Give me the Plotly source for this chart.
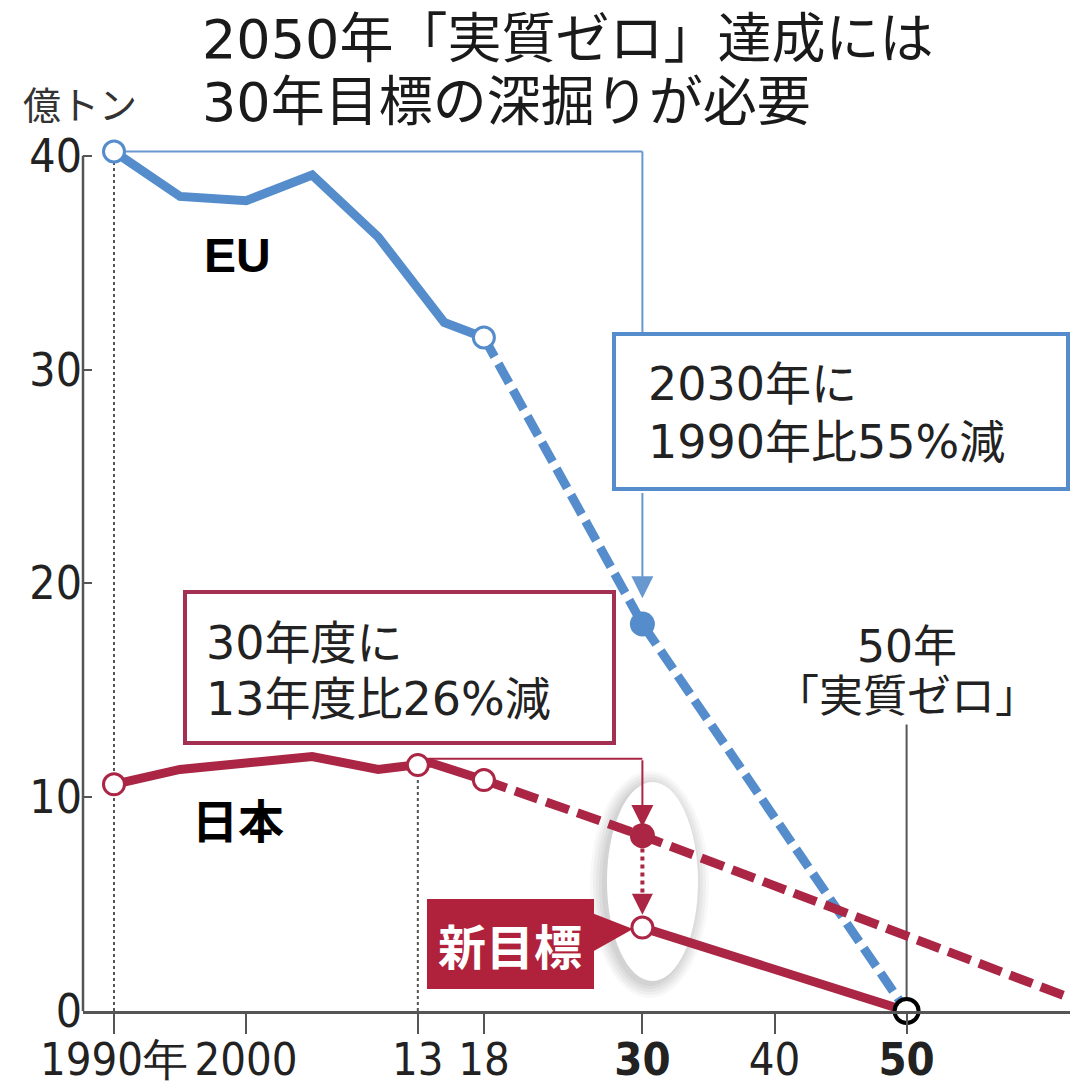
import plotly.graph_objects as go

# --- data (億トン) ---
eu_years = [1990, 1995, 2000, 2005, 2010, 2015, 2018]
eu_vals = [40.2, 38.1, 37.9, 39.1, 36.2, 32.2, 31.5]
eu_goal_years = [2018, 2030, 2050]
eu_goal_vals = [31.5, 18.1, 0]

jp_years = [1990, 1995, 2000, 2005, 2010, 2013, 2014, 2018]
jp_vals = [10.6, 11.3, 11.6, 11.9, 11.3, 11.5, 11.6, 10.8]
jp_old_years = [2018, 2030, 2065]
jp_old_vals = [10.8, 8.2, 0]
jp_new_years = [2030, 2050]
jp_new_vals = [3.9, 0]

tick_years = [1990, 2000, 2013, 2018, 2030, 2040, 2050]
tick_text = ['1990年', '2000', '13', '18', '<b>30</b>', '40', '<b>50</b>']
y_ticks = [0, 10, 20, 30, 40]

title_lines = ['2050年「実質ゼロ」達成には', '30年目標の深掘りが必要']
eu_note = ['2030年に', '1990年比55%減']
jp_note = ['30年度に', '13年度比26%減']
zero_note = ['50年', '「実質ゼロ」']

blue = 'rgb(84,140,204)'
blue_thin = 'rgb(104,152,208)'
red = 'rgb(170,38,68)'
red_box = 'rgb(163,48,80)'
red_fill = 'rgb(176,34,60)'
grey = '#555555'

narrow = 'Liberation Sans Narrow, DejaVu Sans Condensed, Roboto, sans-serif'
jp_font = 'DejaVu Sans, Noto Sans CJK JP, sans-serif'

# page has an 8px body margin; positions below are in page pixels
OFF = 8
FIG_W, FIG_H = 1078 - OFF, 1091 - OFF
L, W, B, H = 83, 995, 1011, 898
X0 = 1990 - (114 - L) / 13.21
X1 = X0 + W / 13.21
YMAX = 42


def px(x):
    return (x - L) / W


def py(y):
    return (B - y) / H


fig = go.Figure()

# EU
fig.add_trace(go.Scatter(x=eu_years, y=eu_vals, mode='lines',
                         line=dict(color=blue, width=9), showlegend=False))
fig.add_trace(go.Scatter(x=eu_goal_years, y=eu_goal_vals, mode='lines',
                         line=dict(color=blue, width=9, dash='22px,8px'),
                         showlegend=False))
# Japan
fig.add_trace(go.Scatter(x=jp_years, y=jp_vals, mode='lines',
                         line=dict(color=red, width=9), showlegend=False))
fig.add_trace(go.Scatter(x=jp_old_years, y=jp_old_vals, mode='lines',
                         line=dict(color=red, width=9, dash='24px,9px'),
                         showlegend=False))
fig.add_trace(go.Scatter(x=jp_new_years, y=jp_new_vals, mode='lines',
                         line=dict(color=red, width=9), showlegend=False))

# markers
fig.add_trace(go.Scatter(
    x=[eu_years[0], eu_years[-1]], y=[eu_vals[0], eu_vals[-1]], mode='markers',
    marker=dict(size=21, color='white', line=dict(color=blue, width=3)),
    showlegend=False, cliponaxis=False))
fig.add_trace(go.Scatter(
    x=[eu_goal_years[1]], y=[eu_goal_vals[1]], mode='markers',
    marker=dict(size=25, color=blue), showlegend=False))
fig.add_trace(go.Scatter(
    x=[jp_years[0], jp_years[5], jp_years[-1], jp_new_years[0]],
    y=[jp_vals[0], jp_vals[5], jp_vals[-1], jp_new_vals[0]], mode='markers',
    marker=dict(size=21, color='white', line=dict(color=red, width=3)),
    showlegend=False))
fig.add_trace(go.Scatter(
    x=[jp_old_years[1]], y=[jp_old_vals[1]], mode='markers',
    marker=dict(size=25, color=red), showlegend=False))
fig.add_trace(go.Scatter(
    x=[jp_new_years[1]], y=[jp_new_vals[1]], mode='markers',
    marker=dict(size=24, color='white', line=dict(color='black', width=4)),
    showlegend=False, cliponaxis=False))

shapes = []
# soft shadow + white ellipse behind the 2030 points
for i, op in enumerate([0.05, 0.06, 0.07, 0.08, 0.09]):
    g = 14 - i * 3
    shapes.append(dict(type='circle', xref='paper', yref='paper', layer='below',
                       x0=px(607 - g - 3), x1=px(698 + g - 3),
                       y0=py(981 + g + 3), y1=py(782 - g + 3),
                       fillcolor=f'rgba(110,110,110,{op})', line=dict(width=0)))
shapes.append(dict(type='circle', xref='paper', yref='paper', layer='below',
                   x0=px(607), x1=px(698), y0=py(981), y1=py(782),
                   fillcolor='white', line=dict(width=0)))
# y axis line (0..40)
shapes.append(dict(type='line', xref='paper', yref='y', x0=0, x1=0, y0=0, y1=40,
                   line=dict(color=grey, width=2.5)))
# dotted guides
shapes.append(dict(type='line', x0=1990, x1=1990, y0=0, y1=eu_vals[0], layer='below',
                   line=dict(color=grey, width=2, dash='dot')))
shapes.append(dict(type='line', x0=2013, x1=2013, y0=0, y1=jp_vals[5], layer='below',
                   line=dict(color=grey, width=2, dash='dot')))
# 2050 guide
shapes.append(dict(type='line', x0=2050, x1=2050, y0=0, y1=13.4, layer='below',
                   line=dict(color=grey, width=2)))
# EU connector
shapes.append(dict(type='line', x0=1990, x1=2030, y0=eu_vals[0], y1=eu_vals[0],
                   layer='below', line=dict(color=blue_thin, width=2)))
shapes.append(dict(type='line', x0=2030, x1=2030, y0=eu_vals[0], y1=26,
                   layer='below', line=dict(color=blue_thin, width=2)))
# JP connector
shapes.append(dict(type='line', x0=2013, x1=2030, y0=11.8, y1=11.8,
                   layer='below', line=dict(color=red, width=2)))
# dotted arrow shaft
shapes.append(dict(type='line', x0=2030, x1=2030, y0=7.6, y1=5.2,
                   line=dict(color=red, width=4, dash='dot')))
# note boxes
shapes.append(dict(type='rect', xref='paper', yref='paper',
                   x0=px(614), x1=px(1068), y0=py(489), y1=py(334),
                   fillcolor='white', line=dict(color=blue, width=4)))
shapes.append(dict(type='rect', xref='paper', yref='paper',
                   x0=px(185), x1=px(614), y0=py(743), y1=py(592),
                   fillcolor='white', line=dict(color=red_box, width=4)))
# 新目標 label with pointer
shapes.append(dict(type='rect', xref='paper', yref='paper',
                   x0=px(427), x1=px(594), y0=py(989), y1=py(899),
                   fillcolor=red_fill, line=dict(width=0)))
shapes.append(dict(type='path', xref='paper', yref='paper',
                   path=f'M {px(592)} {py(913)} L {px(633)} {py(929)} L {px(592)} {py(952)} Z',
                   fillcolor=red_fill, line=dict(width=0)))

ann = []
# title
for i, t in enumerate(title_lines):
    ann.append(dict(text=t, xref='paper', yref='paper', x=px(200), y=py(40 + 63 * i),
                    xanchor='left', yanchor='middle', showarrow=False,
                    font=dict(family=jp_font, size=54, color='#1a1a1a')))
ann.append(dict(text='億トン', xref='paper', yref='paper', x=px(80), y=py(102),
                xanchor='center', yanchor='middle', showarrow=False,
                font=dict(family='Noto Sans CJK JP', size=38, color='#333')))
ann.append(dict(text='<b>EU</b>', xref='paper', yref='paper', x=px(237), y=py(256),
                xanchor='center', yanchor='middle', showarrow=False,
                font=dict(family='Liberation Sans, Arial, sans-serif', size=48, color='black')))
ann.append(dict(text='<b>日本</b>', xref='paper', yref='paper', x=px(238), y=py(818),
                xanchor='center', yanchor='middle', showarrow=False,
                font=dict(family='Noto Sans CJK JP', size=46, color='black')))
for i, t in enumerate(eu_note):
    ann.append(dict(text=t, xref='paper', yref='paper', x=px(646), y=py(384 + 58 * i),
                    xanchor='left', yanchor='middle', showarrow=False,
                    font=dict(family=jp_font, size=46, color='#222')))
for i, t in enumerate(jp_note):
    ann.append(dict(text=t, xref='paper', yref='paper', x=px(204), y=py(643 + 56 * i),
                    xanchor='left', yanchor='middle', showarrow=False,
                    font=dict(family=jp_font, size=46, color='#222')))
for i, t in enumerate(zero_note):
    ann.append(dict(text=t, xref='paper', yref='paper', x=px(907), y=py(646 + 50 * i),
                    xanchor='center', yanchor='middle', showarrow=False,
                    font=dict(family=jp_font, size=44, color='#222')))
ann.append(dict(text='<b>新目標</b>', xref='paper', yref='paper', x=px(510), y=py(944),
                xanchor='center', yanchor='middle', showarrow=False,
                font=dict(family='Noto Sans CJK JP', size=48, color='white')))
# arrows
ann.append(dict(text='', x=2030, y=19.3, ax=2030, ay=24.3, axref='x', ayref='y',
                showarrow=True, arrowhead=2, arrowsize=2.2, arrowwidth=2,
                arrowcolor=blue_thin))
ann.append(dict(text='', x=2030, y=8.6, ax=2030, ay=11.8, axref='x', ayref='y',
                showarrow=True, arrowhead=2, arrowsize=2.2, arrowwidth=2,
                arrowcolor=red))
ann.append(dict(text='', x=2030, y=4.5, ax=2030, ay=5.3, axref='x', ayref='y',
                showarrow=True, arrowhead=2, arrowsize=1.4, arrowwidth=3,
                arrowcolor=red))

fig.update_layout(
    width=FIG_W, height=FIG_H,
    margin=dict(l=L - OFF, r=FIG_W - (L - OFF) - W, t=B - H - OFF,
                b=FIG_H - (B - OFF), pad=0),
    paper_bgcolor='white', plot_bgcolor='white',
    shapes=shapes, annotations=ann,
    xaxis=dict(range=[X0, X1], tickvals=tick_years, ticktext=tick_text,
               tickangle=0, automargin=False, ticklabelstandoff=-13,
               showgrid=False, zeroline=False, showline=True, linecolor=grey,
               linewidth=2.5, ticks='outside', ticklen=20, tickwidth=2,
               tickcolor=grey,
               tickfont=dict(family=narrow, size=45, color='#222')),
    yaxis=dict(range=[0, YMAX], tickvals=y_ticks, showgrid=False, zeroline=False,
               automargin=False,
               showline=False, ticks='inside', ticklen=9, tickwidth=2,
               tickcolor=grey,
               tickfont=dict(family=narrow, size=46, color='#222')),
)

fig.write_html('out.html')
